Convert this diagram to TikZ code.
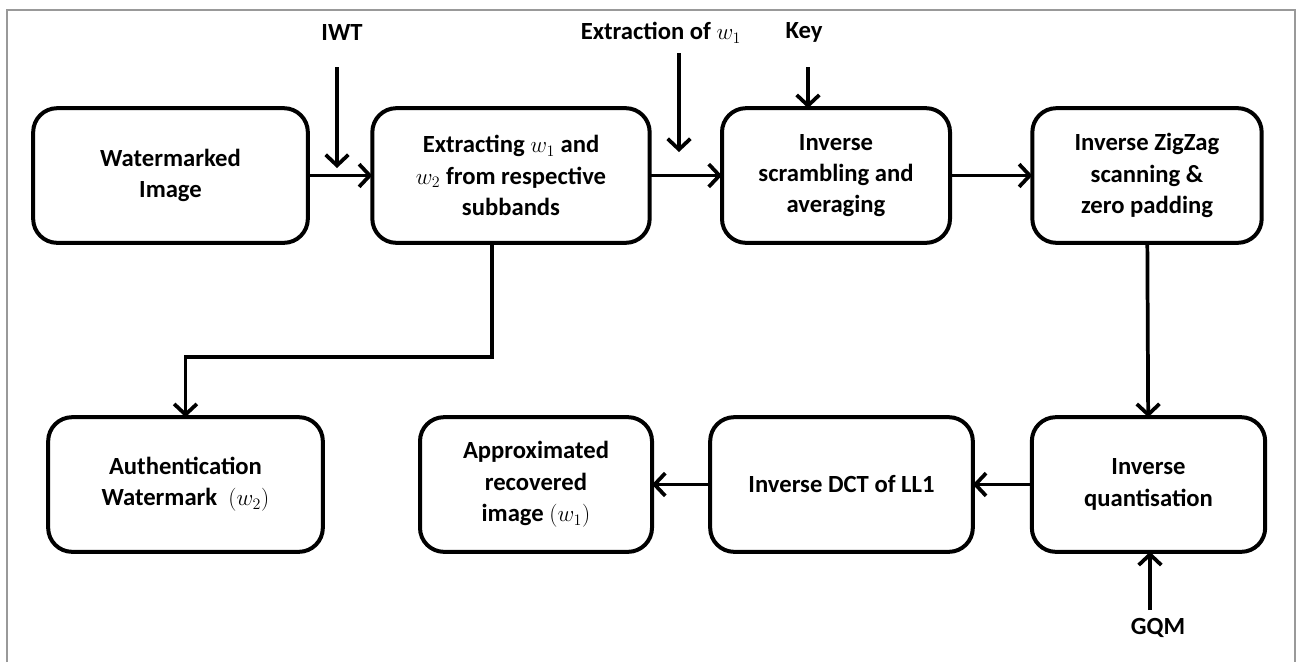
\documentclass[tikz,border=0pt]{standalone}
\usepackage{fontspec}
\setmainfont{Carlito}
\usetikzlibrary{arrows.meta,calc}
\begin{document}
\begin{tikzpicture}[x=0.75pt, y=-0.75pt, font=\fontsize{18.5}{23.5}\selectfont\bfseries,
    every node/.style={align=center, inner sep=0pt, outer sep=0pt},
    blockbox/.style={draw, fill=white, line width=3pt, rounded corners=18pt, minimum height=101pt},
    flow/.style={-{Straight Barb[length=8pt,width=17pt,line width=2.8pt]}, line width=2.8pt},
    line join=miter]
    \useasboundingbox (0,0) rectangle (1299,662);
    % page frame
    \draw[gray!80, line width=1.5pt] (7,662) -- (7,10) -- (1295,10) -- (1295,662);

    % top row
    \node[blockbox, minimum width=206pt] (wm) at (170.5,175.5) {Watermarked\\Image};
    \node[blockbox, minimum width=208pt] (ext) at (511,175.5) {Extracting $w_1$ and\\$w_2$ from respective\\subbands};
    \node[blockbox, minimum width=171pt] (scr) at (836,175.5) {Inverse\\scrambling and\\averaging};
    \node[blockbox, minimum width=172pt] (zz) at (1147,175.5) {Inverse ZigZag\\scanning \&\\zero padding};

    % bottom row
    \node[blockbox, minimum width=206pt] (auth) at (185.5,484.5) {Authentication\\Watermark\ \ $(w_2)$};
    \node[blockbox, minimum width=174pt] (appr) at (536,484.5) {Approximated\\recovered\\image $(w_1)$};
    \node[blockbox, minimum width=197pt] (idct) at (841.5,484.5) {Inverse DCT of LL1};
    \node[blockbox, minimum width=175pt] (iq) at (1148.5,484.5) {Inverse\\quantisation};

    % inputs
    \node (iwt) at (342,32) {IWT};
    \node (extw) at (661,33) {Extraction of $w_1$};
    \node (key) at (804,32) {Key};
    \node (gqm) at (1158,628) {GQM};
    \coordinate (iwtS) at (337,67);
    \coordinate (iwtE) at (337,168);
    \coordinate (extS) at (679,53);
    \coordinate (extE) at (679,152);
    \coordinate (keyS) at (808,67);
    \coordinate (gqmS) at (1150,610);

    \draw[flow] (iwtS) -- (iwtE);
    \draw[flow] (extS) -- (extE);
    \draw[flow] (keyS) -- (keyS |- scr.north);
    \draw[flow] (gqmS) -- (gqmS |- iq.south);

    % main flow
    \draw[flow] (wm) -- (ext);
    \draw[flow] (ext) -- (scr);
    \draw[flow] (scr) -- (zz);
    \draw[flow] (zz) -- (iq);
    \draw[flow] (iq) -- (idct);
    \draw[flow] (idct) -- (appr);
    \draw[flow] ($(ext.south)+(-19,0)$) -- ++(0,114) -| (auth.north);
\end{tikzpicture}
\end{document}
